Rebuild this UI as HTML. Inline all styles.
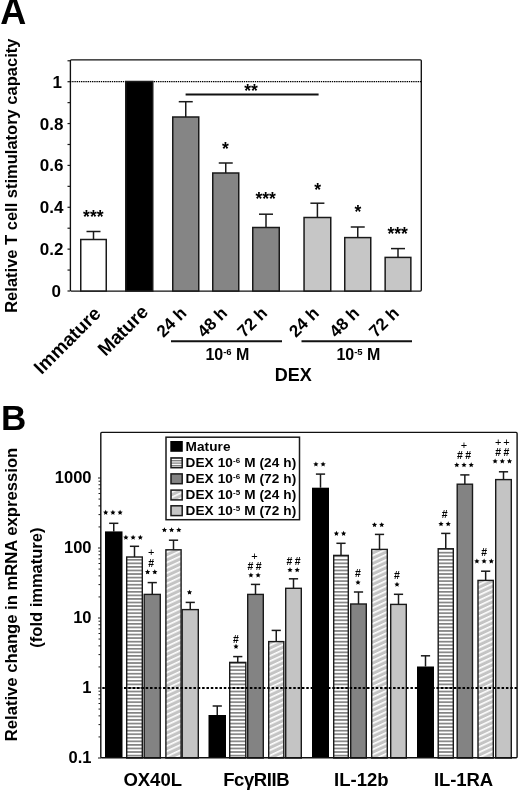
<!DOCTYPE html>
<html><head><meta charset="utf-8"><title>Figure</title>
<style>html,body{margin:0;padding:0;background:#fff;}svg{display:block;filter:blur(0.3px);}text{font-family:"Liberation Sans",sans-serif;}</style>
</head><body>
<svg width="520" height="791" viewBox="0 0 520 791">
<rect width="520" height="791" fill="#fff"/>
<rect x="70.4" y="59.8" width="350.9" height="231.3" rx="1" fill="none" stroke="#111" stroke-width="1.35"/>
<line x1="67.5" y1="291.00" x2="70" y2="291.00" stroke="#1a1a1a" stroke-width="1.2"/>
<line x1="67.5" y1="270.07" x2="70" y2="270.07" stroke="#1a1a1a" stroke-width="1.2"/>
<line x1="67.5" y1="249.14" x2="70" y2="249.14" stroke="#1a1a1a" stroke-width="1.2"/>
<line x1="67.5" y1="228.21" x2="70" y2="228.21" stroke="#1a1a1a" stroke-width="1.2"/>
<line x1="67.5" y1="207.28" x2="70" y2="207.28" stroke="#1a1a1a" stroke-width="1.2"/>
<line x1="67.5" y1="186.35" x2="70" y2="186.35" stroke="#1a1a1a" stroke-width="1.2"/>
<line x1="67.5" y1="165.42" x2="70" y2="165.42" stroke="#1a1a1a" stroke-width="1.2"/>
<line x1="67.5" y1="144.49" x2="70" y2="144.49" stroke="#1a1a1a" stroke-width="1.2"/>
<line x1="67.5" y1="123.56" x2="70" y2="123.56" stroke="#1a1a1a" stroke-width="1.2"/>
<line x1="67.5" y1="102.63" x2="70" y2="102.63" stroke="#1a1a1a" stroke-width="1.2"/>
<line x1="67.5" y1="81.70" x2="70" y2="81.70" stroke="#1a1a1a" stroke-width="1.2"/>
<line x1="67.5" y1="60.77" x2="70" y2="60.77" stroke="#1a1a1a" stroke-width="1.2"/>
<text x="61" y="297.00" text-anchor="end" font-size="17" font-weight="bold" font-family="Liberation Sans, sans-serif">0</text>
<text x="63.5" y="255.14" text-anchor="end" font-size="17" font-weight="bold" font-family="Liberation Sans, sans-serif">0.2</text>
<text x="63.5" y="213.28" text-anchor="end" font-size="17" font-weight="bold" font-family="Liberation Sans, sans-serif">0.4</text>
<text x="63.5" y="171.42" text-anchor="end" font-size="17" font-weight="bold" font-family="Liberation Sans, sans-serif">0.6</text>
<text x="63.5" y="129.56" text-anchor="end" font-size="17" font-weight="bold" font-family="Liberation Sans, sans-serif">0.8</text>
<text x="62" y="87.70" text-anchor="end" font-size="17" font-weight="bold" font-family="Liberation Sans, sans-serif">1</text>
<line x1="70" y1="81.6" x2="421" y2="81.6" stroke="#000" stroke-width="1.2" stroke-dasharray="1.4 0.8"/>
<line x1="93.50" y1="231.50" x2="93.50" y2="239.50" stroke="#1a1a1a" stroke-width="1.5"/>
<line x1="86.50" y1="231.50" x2="100.50" y2="231.50" stroke="#1a1a1a" stroke-width="1.5"/>
<rect x="80.75" y="239.50" width="25.50" height="51.50" fill="#fff" stroke="#1a1a1a" stroke-width="1.5"/>
<rect x="125.75" y="81.50" width="27.00" height="209.50" fill="#000" stroke="#1a1a1a" stroke-width="1.5"/>
<line x1="185.75" y1="101.70" x2="185.75" y2="117.00" stroke="#1a1a1a" stroke-width="1.5"/>
<line x1="178.75" y1="101.70" x2="192.75" y2="101.70" stroke="#1a1a1a" stroke-width="1.5"/>
<rect x="172.75" y="117.00" width="26.00" height="174.00" fill="#858585" stroke="#1a1a1a" stroke-width="1.5"/>
<line x1="225.75" y1="163.00" x2="225.75" y2="173.00" stroke="#1a1a1a" stroke-width="1.5"/>
<line x1="218.75" y1="163.00" x2="232.75" y2="163.00" stroke="#1a1a1a" stroke-width="1.5"/>
<rect x="212.75" y="173.00" width="26.00" height="118.00" fill="#858585" stroke="#1a1a1a" stroke-width="1.5"/>
<line x1="266.00" y1="214.20" x2="266.00" y2="227.50" stroke="#1a1a1a" stroke-width="1.5"/>
<line x1="259.00" y1="214.20" x2="273.00" y2="214.20" stroke="#1a1a1a" stroke-width="1.5"/>
<rect x="252.75" y="227.50" width="26.50" height="63.50" fill="#858585" stroke="#1a1a1a" stroke-width="1.5"/>
<line x1="317.40" y1="203.20" x2="317.40" y2="217.50" stroke="#1a1a1a" stroke-width="1.5"/>
<line x1="310.40" y1="203.20" x2="324.40" y2="203.20" stroke="#1a1a1a" stroke-width="1.5"/>
<rect x="304.05" y="217.50" width="26.70" height="73.50" fill="#c6c6c6" stroke="#1a1a1a" stroke-width="1.5"/>
<line x1="357.75" y1="227.00" x2="357.75" y2="237.60" stroke="#1a1a1a" stroke-width="1.5"/>
<line x1="350.75" y1="227.00" x2="364.75" y2="227.00" stroke="#1a1a1a" stroke-width="1.5"/>
<rect x="344.75" y="237.60" width="26.00" height="53.40" fill="#c6c6c6" stroke="#1a1a1a" stroke-width="1.5"/>
<line x1="398.00" y1="248.60" x2="398.00" y2="257.40" stroke="#1a1a1a" stroke-width="1.5"/>
<line x1="391.00" y1="248.60" x2="405.00" y2="248.60" stroke="#1a1a1a" stroke-width="1.5"/>
<rect x="385.15" y="257.40" width="25.70" height="33.60" fill="#c6c6c6" stroke="#1a1a1a" stroke-width="1.5"/>
<text x="93.30" y="222.54" text-anchor="middle" font-size="17.5" font-weight="bold" font-family="Liberation Sans, sans-serif">***</text>
<text x="225.50" y="154.54" text-anchor="middle" font-size="17.5" font-weight="bold" font-family="Liberation Sans, sans-serif">*</text>
<text x="265.70" y="205.04" text-anchor="middle" font-size="17.5" font-weight="bold" font-family="Liberation Sans, sans-serif">***</text>
<text x="317.70" y="195.54" text-anchor="middle" font-size="17.5" font-weight="bold" font-family="Liberation Sans, sans-serif">*</text>
<text x="358.00" y="218.34" text-anchor="middle" font-size="17.5" font-weight="bold" font-family="Liberation Sans, sans-serif">*</text>
<text x="397.60" y="239.54" text-anchor="middle" font-size="17.5" font-weight="bold" font-family="Liberation Sans, sans-serif">***</text>
<text x="251.00" y="96.54" text-anchor="middle" font-size="17.5" font-weight="bold" font-family="Liberation Sans, sans-serif">**</text>
<line x1="185.6" y1="94.6" x2="318.6" y2="94.6" stroke="#111" stroke-width="2"/>
<text x="102.00" y="314.80" text-anchor="end" transform="rotate(-45 102.00 314.80)" font-size="19" font-weight="bold" font-family="Liberation Sans, sans-serif">Immature</text>
<text x="149.50" y="313.00" text-anchor="end" transform="rotate(-45 149.50 313.00)" font-size="19" font-weight="bold" font-family="Liberation Sans, sans-serif">Mature</text>
<text x="187.50" y="314.20" text-anchor="end" transform="rotate(-45 187.50 314.20)" font-size="17" font-weight="bold" font-family="Liberation Sans, sans-serif">24 h</text>
<text x="228.30" y="314.20" text-anchor="end" transform="rotate(-45 228.30 314.20)" font-size="17" font-weight="bold" font-family="Liberation Sans, sans-serif">48 h</text>
<text x="268.30" y="314.20" text-anchor="end" transform="rotate(-45 268.30 314.20)" font-size="17" font-weight="bold" font-family="Liberation Sans, sans-serif">72 h</text>
<text x="320.00" y="314.20" text-anchor="end" transform="rotate(-45 320.00 314.20)" font-size="17" font-weight="bold" font-family="Liberation Sans, sans-serif">24 h</text>
<text x="360.40" y="314.20" text-anchor="end" transform="rotate(-45 360.40 314.20)" font-size="17" font-weight="bold" font-family="Liberation Sans, sans-serif">48 h</text>
<text x="400.00" y="314.20" text-anchor="end" transform="rotate(-45 400.00 314.20)" font-size="17" font-weight="bold" font-family="Liberation Sans, sans-serif">72 h</text>
<line x1="171" y1="341.2" x2="282" y2="341.2" stroke="#111" stroke-width="2"/>
<line x1="301.5" y1="341.2" x2="412" y2="341.2" stroke="#111" stroke-width="2"/>
<text x="227.4" y="359.5" text-anchor="middle" font-size="16" font-weight="bold" font-family="Liberation Sans, sans-serif">10<tspan font-size="9.5" dy="-4.7">-6</tspan><tspan dy="4.7"> M</tspan></text>
<text x="358.4" y="360" text-anchor="middle" font-size="16" font-weight="bold" font-family="Liberation Sans, sans-serif">10<tspan font-size="9.5" dy="-4.7">-5</tspan><tspan dy="4.7"> M</tspan></text>
<text x="293.3" y="380.6" text-anchor="middle" font-size="18" font-weight="bold" font-family="Liberation Sans, sans-serif">DEX</text>
<text x="0.3" y="24.3" font-size="36" font-weight="bold" font-family="Liberation Sans, sans-serif">A</text>
<text x="17.3" y="175.7" text-anchor="middle" transform="rotate(-90 17.3 175.7)" font-size="16.5" font-weight="bold" font-family="Liberation Sans, sans-serif" dx="0">Relative T cell stimulatory capacity</text>
<defs><pattern id="hs" patternUnits="userSpaceOnUse" width="10" height="3.56"><rect width="10" height="3.56" fill="#fff"/><rect y="0" width="10" height="1.7" fill="#838383"/></pattern><pattern id="dd" patternUnits="userSpaceOnUse" width="20" height="4.75" patternTransform="rotate(-25)"><rect width="20" height="4.75" fill="#c4c4c4"/><rect y="0" width="20" height="1.6" fill="#fff"/></pattern><pattern id="hs2" patternUnits="userSpaceOnUse" width="10" height="2.5"><rect width="10" height="2.5" fill="#fff"/><rect y="0" width="10" height="1.3" fill="#7c7c7c"/></pattern></defs>
<line x1="113.75" y1="523.30" x2="113.75" y2="531.40" stroke="#1a1a1a" stroke-width="1.5"/>
<line x1="109.15" y1="523.30" x2="118.35" y2="523.30" stroke="#1a1a1a" stroke-width="1.5"/>
<rect x="105.00" y="531.40" width="17.50" height="226.60" fill="#000"/>
<line x1="134.50" y1="546.30" x2="134.50" y2="557.00" stroke="#1a1a1a" stroke-width="1.5"/>
<line x1="129.90" y1="546.30" x2="139.10" y2="546.30" stroke="#1a1a1a" stroke-width="1.5"/>
<rect x="126.70" y="557.00" width="15.60" height="201.00" fill="url(#hs)" stroke="#1a1a1a" stroke-width="1.4"/>
<line x1="152.25" y1="582.60" x2="152.25" y2="594.40" stroke="#1a1a1a" stroke-width="1.5"/>
<line x1="147.65" y1="582.60" x2="156.85" y2="582.60" stroke="#1a1a1a" stroke-width="1.5"/>
<rect x="144.20" y="594.40" width="16.10" height="163.60" fill="#838383" stroke="#1a1a1a" stroke-width="1.4"/>
<line x1="173.50" y1="540.20" x2="173.50" y2="549.80" stroke="#1a1a1a" stroke-width="1.5"/>
<line x1="168.90" y1="540.20" x2="178.10" y2="540.20" stroke="#1a1a1a" stroke-width="1.5"/>
<rect x="165.90" y="549.80" width="15.20" height="208.20" fill="url(#dd)" stroke="#1a1a1a" stroke-width="1.4"/>
<line x1="190.25" y1="602.40" x2="190.25" y2="609.60" stroke="#1a1a1a" stroke-width="1.5"/>
<line x1="185.65" y1="602.40" x2="194.85" y2="602.40" stroke="#1a1a1a" stroke-width="1.5"/>
<rect x="182.20" y="609.60" width="16.10" height="148.40" fill="#c4c4c4" stroke="#1a1a1a" stroke-width="1.4"/>
<line x1="217.25" y1="706.00" x2="217.25" y2="715.00" stroke="#1a1a1a" stroke-width="1.5"/>
<line x1="212.65" y1="706.00" x2="221.85" y2="706.00" stroke="#1a1a1a" stroke-width="1.5"/>
<rect x="208.50" y="715.00" width="17.50" height="43.00" fill="#000"/>
<line x1="237.75" y1="656.60" x2="237.75" y2="662.40" stroke="#1a1a1a" stroke-width="1.5"/>
<line x1="233.15" y1="656.60" x2="242.35" y2="656.60" stroke="#1a1a1a" stroke-width="1.5"/>
<rect x="229.70" y="662.40" width="16.10" height="95.60" fill="url(#hs)" stroke="#1a1a1a" stroke-width="1.4"/>
<line x1="255.50" y1="584.40" x2="255.50" y2="594.40" stroke="#1a1a1a" stroke-width="1.5"/>
<line x1="250.90" y1="584.40" x2="260.10" y2="584.40" stroke="#1a1a1a" stroke-width="1.5"/>
<rect x="247.70" y="594.40" width="15.60" height="163.60" fill="#838383" stroke="#1a1a1a" stroke-width="1.4"/>
<line x1="276.25" y1="630.40" x2="276.25" y2="641.60" stroke="#1a1a1a" stroke-width="1.5"/>
<line x1="271.65" y1="630.40" x2="280.85" y2="630.40" stroke="#1a1a1a" stroke-width="1.5"/>
<rect x="268.70" y="641.60" width="15.10" height="116.40" fill="url(#dd)" stroke="#1a1a1a" stroke-width="1.4"/>
<line x1="293.50" y1="578.80" x2="293.50" y2="588.30" stroke="#1a1a1a" stroke-width="1.5"/>
<line x1="288.90" y1="578.80" x2="298.10" y2="578.80" stroke="#1a1a1a" stroke-width="1.5"/>
<rect x="285.70" y="588.30" width="15.60" height="169.70" fill="#c4c4c4" stroke="#1a1a1a" stroke-width="1.4"/>
<line x1="320.50" y1="474.10" x2="320.50" y2="487.70" stroke="#1a1a1a" stroke-width="1.5"/>
<line x1="315.90" y1="474.10" x2="325.10" y2="474.10" stroke="#1a1a1a" stroke-width="1.5"/>
<rect x="312.00" y="487.70" width="17.00" height="270.30" fill="#000"/>
<line x1="341.00" y1="543.30" x2="341.00" y2="555.40" stroke="#1a1a1a" stroke-width="1.5"/>
<line x1="336.40" y1="543.30" x2="345.60" y2="543.30" stroke="#1a1a1a" stroke-width="1.5"/>
<rect x="333.70" y="555.40" width="14.60" height="202.60" fill="url(#hs)" stroke="#1a1a1a" stroke-width="1.4"/>
<line x1="358.50" y1="592.00" x2="358.50" y2="604.00" stroke="#1a1a1a" stroke-width="1.5"/>
<line x1="353.90" y1="592.00" x2="363.10" y2="592.00" stroke="#1a1a1a" stroke-width="1.5"/>
<rect x="350.70" y="604.00" width="15.60" height="154.00" fill="#838383" stroke="#1a1a1a" stroke-width="1.4"/>
<line x1="379.50" y1="534.40" x2="379.50" y2="549.40" stroke="#1a1a1a" stroke-width="1.5"/>
<line x1="374.90" y1="534.40" x2="384.10" y2="534.40" stroke="#1a1a1a" stroke-width="1.5"/>
<rect x="371.70" y="549.40" width="15.60" height="208.60" fill="url(#dd)" stroke="#1a1a1a" stroke-width="1.4"/>
<line x1="398.50" y1="594.30" x2="398.50" y2="604.40" stroke="#1a1a1a" stroke-width="1.5"/>
<line x1="393.90" y1="594.30" x2="403.10" y2="594.30" stroke="#1a1a1a" stroke-width="1.5"/>
<rect x="390.70" y="604.40" width="15.60" height="153.60" fill="#c4c4c4" stroke="#1a1a1a" stroke-width="1.4"/>
<line x1="425.50" y1="655.80" x2="425.50" y2="666.50" stroke="#1a1a1a" stroke-width="1.5"/>
<line x1="420.90" y1="655.80" x2="430.10" y2="655.80" stroke="#1a1a1a" stroke-width="1.5"/>
<rect x="417.00" y="666.50" width="17.00" height="91.50" fill="#000"/>
<line x1="445.75" y1="533.40" x2="445.75" y2="548.75" stroke="#1a1a1a" stroke-width="1.5"/>
<line x1="441.15" y1="533.40" x2="450.35" y2="533.40" stroke="#1a1a1a" stroke-width="1.5"/>
<rect x="438.20" y="548.75" width="15.10" height="209.25" fill="url(#hs)" stroke="#1a1a1a" stroke-width="1.4"/>
<line x1="464.85" y1="474.90" x2="464.85" y2="484.20" stroke="#1a1a1a" stroke-width="1.5"/>
<line x1="460.25" y1="474.90" x2="469.45" y2="474.90" stroke="#1a1a1a" stroke-width="1.5"/>
<rect x="457.20" y="484.20" width="15.30" height="273.80" fill="#838383" stroke="#1a1a1a" stroke-width="1.4"/>
<line x1="485.65" y1="571.20" x2="485.65" y2="580.40" stroke="#1a1a1a" stroke-width="1.5"/>
<line x1="481.05" y1="571.20" x2="490.25" y2="571.20" stroke="#1a1a1a" stroke-width="1.5"/>
<rect x="478.00" y="580.40" width="15.30" height="177.60" fill="url(#dd)" stroke="#1a1a1a" stroke-width="1.4"/>
<line x1="503.50" y1="471.80" x2="503.50" y2="479.60" stroke="#1a1a1a" stroke-width="1.5"/>
<line x1="498.90" y1="471.80" x2="508.10" y2="471.80" stroke="#1a1a1a" stroke-width="1.5"/>
<rect x="495.70" y="479.60" width="15.60" height="278.40" fill="#c4c4c4" stroke="#1a1a1a" stroke-width="1.4"/>
<line x1="101" y1="688" x2="517" y2="688" stroke="#000" stroke-width="2.2" stroke-dasharray="2.5 1.84" stroke-dashoffset="3.04"/>
<rect x="100.8" y="432.4" width="416.3" height="325.4" rx="1" fill="none" stroke="#111" stroke-width="1.4"/>
<line x1="98" y1="758.00" x2="101" y2="758.00" stroke="#1a1a1a" stroke-width="1"/>
<line x1="98.5" y1="736.93" x2="101" y2="736.93" stroke="#1a1a1a" stroke-width="1"/>
<line x1="98.5" y1="724.60" x2="101" y2="724.60" stroke="#1a1a1a" stroke-width="1"/>
<line x1="98.5" y1="715.86" x2="101" y2="715.86" stroke="#1a1a1a" stroke-width="1"/>
<line x1="98.5" y1="709.07" x2="101" y2="709.07" stroke="#1a1a1a" stroke-width="1"/>
<line x1="98.5" y1="703.53" x2="101" y2="703.53" stroke="#1a1a1a" stroke-width="1"/>
<line x1="98.5" y1="698.84" x2="101" y2="698.84" stroke="#1a1a1a" stroke-width="1"/>
<line x1="98.5" y1="694.78" x2="101" y2="694.78" stroke="#1a1a1a" stroke-width="1"/>
<line x1="98.5" y1="691.20" x2="101" y2="691.20" stroke="#1a1a1a" stroke-width="1"/>
<line x1="98" y1="688.00" x2="101" y2="688.00" stroke="#1a1a1a" stroke-width="1"/>
<line x1="98.5" y1="666.93" x2="101" y2="666.93" stroke="#1a1a1a" stroke-width="1"/>
<line x1="98.5" y1="654.60" x2="101" y2="654.60" stroke="#1a1a1a" stroke-width="1"/>
<line x1="98.5" y1="645.86" x2="101" y2="645.86" stroke="#1a1a1a" stroke-width="1"/>
<line x1="98.5" y1="639.07" x2="101" y2="639.07" stroke="#1a1a1a" stroke-width="1"/>
<line x1="98.5" y1="633.53" x2="101" y2="633.53" stroke="#1a1a1a" stroke-width="1"/>
<line x1="98.5" y1="628.84" x2="101" y2="628.84" stroke="#1a1a1a" stroke-width="1"/>
<line x1="98.5" y1="624.78" x2="101" y2="624.78" stroke="#1a1a1a" stroke-width="1"/>
<line x1="98.5" y1="621.20" x2="101" y2="621.20" stroke="#1a1a1a" stroke-width="1"/>
<line x1="98" y1="618.00" x2="101" y2="618.00" stroke="#1a1a1a" stroke-width="1"/>
<line x1="98.5" y1="596.93" x2="101" y2="596.93" stroke="#1a1a1a" stroke-width="1"/>
<line x1="98.5" y1="584.60" x2="101" y2="584.60" stroke="#1a1a1a" stroke-width="1"/>
<line x1="98.5" y1="575.86" x2="101" y2="575.86" stroke="#1a1a1a" stroke-width="1"/>
<line x1="98.5" y1="569.07" x2="101" y2="569.07" stroke="#1a1a1a" stroke-width="1"/>
<line x1="98.5" y1="563.53" x2="101" y2="563.53" stroke="#1a1a1a" stroke-width="1"/>
<line x1="98.5" y1="558.84" x2="101" y2="558.84" stroke="#1a1a1a" stroke-width="1"/>
<line x1="98.5" y1="554.78" x2="101" y2="554.78" stroke="#1a1a1a" stroke-width="1"/>
<line x1="98.5" y1="551.20" x2="101" y2="551.20" stroke="#1a1a1a" stroke-width="1"/>
<line x1="98" y1="548.00" x2="101" y2="548.00" stroke="#1a1a1a" stroke-width="1"/>
<line x1="98.5" y1="526.93" x2="101" y2="526.93" stroke="#1a1a1a" stroke-width="1"/>
<line x1="98.5" y1="514.60" x2="101" y2="514.60" stroke="#1a1a1a" stroke-width="1"/>
<line x1="98.5" y1="505.86" x2="101" y2="505.86" stroke="#1a1a1a" stroke-width="1"/>
<line x1="98.5" y1="499.07" x2="101" y2="499.07" stroke="#1a1a1a" stroke-width="1"/>
<line x1="98.5" y1="493.53" x2="101" y2="493.53" stroke="#1a1a1a" stroke-width="1"/>
<line x1="98.5" y1="488.84" x2="101" y2="488.84" stroke="#1a1a1a" stroke-width="1"/>
<line x1="98.5" y1="484.78" x2="101" y2="484.78" stroke="#1a1a1a" stroke-width="1"/>
<line x1="98.5" y1="481.20" x2="101" y2="481.20" stroke="#1a1a1a" stroke-width="1"/>
<line x1="98" y1="478.00" x2="101" y2="478.00" stroke="#1a1a1a" stroke-width="1"/>
<text x="91.5" y="762.50" text-anchor="end" font-size="16.5" font-weight="bold" font-family="Liberation Sans, sans-serif">0.1</text>
<text x="91.5" y="692.50" text-anchor="end" font-size="16.5" font-weight="bold" font-family="Liberation Sans, sans-serif">1</text>
<text x="91.5" y="622.50" text-anchor="end" font-size="16.5" font-weight="bold" font-family="Liberation Sans, sans-serif">10</text>
<text x="91.5" y="552.50" text-anchor="end" font-size="16.5" font-weight="bold" font-family="Liberation Sans, sans-serif">100</text>
<text x="91.5" y="482.50" text-anchor="end" font-size="16.5" font-weight="bold" font-family="Liberation Sans, sans-serif">1000</text>
<polygon points="105.70,509.85 106.46,511.55 108.32,511.75 106.93,513.00 107.32,514.82 105.70,513.89 104.08,514.82 104.47,513.00 103.08,511.75 104.94,511.55" fill="#000"/>
<polygon points="112.90,509.85 113.66,511.55 115.52,511.75 114.13,513.00 114.52,514.82 112.90,513.89 111.28,514.82 111.67,513.00 110.28,511.75 112.14,511.55" fill="#000"/>
<polygon points="120.10,509.85 120.86,511.55 122.72,511.75 121.33,513.00 121.72,514.82 120.10,513.89 118.48,514.82 118.87,513.00 117.48,511.75 119.34,511.55" fill="#000"/>
<polygon points="125.90,534.75 126.66,536.45 128.52,536.65 127.13,537.90 127.52,539.72 125.90,538.79 124.28,539.72 124.67,537.90 123.28,536.65 125.14,536.45" fill="#000"/>
<polygon points="133.10,534.75 133.86,536.45 135.72,536.65 134.33,537.90 134.72,539.72 133.10,538.79 131.48,539.72 131.87,537.90 130.48,536.65 132.34,536.45" fill="#000"/>
<polygon points="140.30,534.75 141.06,536.45 142.92,536.65 141.53,537.90 141.92,539.72 140.30,538.79 138.68,539.72 139.07,537.90 137.68,536.65 139.54,536.45" fill="#000"/>
<text x="151.20" y="555.80" text-anchor="middle" font-size="11" font-family="Liberation Sans, sans-serif">+</text>
<text x="151.20" y="567.15" text-anchor="middle" font-size="10.5" font-weight="bold" font-family="Liberation Sans, sans-serif">#</text>
<polygon points="147.60,569.35 148.36,571.05 150.22,571.25 148.83,572.50 149.22,574.32 147.60,573.39 145.98,574.32 146.37,572.50 144.98,571.25 146.84,571.05" fill="#000"/>
<polygon points="154.80,569.35 155.56,571.05 157.42,571.25 156.03,572.50 156.42,574.32 154.80,573.39 153.18,574.32 153.57,572.50 152.18,571.25 154.04,571.05" fill="#000"/>
<polygon points="164.40,527.25 165.16,528.95 167.02,529.15 165.63,530.40 166.02,532.22 164.40,531.29 162.78,532.22 163.17,530.40 161.78,529.15 163.64,528.95" fill="#000"/>
<polygon points="171.60,527.25 172.36,528.95 174.22,529.15 172.83,530.40 173.22,532.22 171.60,531.29 169.98,532.22 170.37,530.40 168.98,529.15 170.84,528.95" fill="#000"/>
<polygon points="178.80,527.25 179.56,528.95 181.42,529.15 180.03,530.40 180.42,532.22 178.80,531.29 177.18,532.22 177.57,530.40 176.18,529.15 178.04,528.95" fill="#000"/>
<polygon points="189.50,589.65 190.26,591.35 192.12,591.55 190.73,592.80 191.12,594.62 189.50,593.69 187.88,594.62 188.27,592.80 186.88,591.55 188.74,591.35" fill="#000"/>
<text x="236.00" y="642.60" text-anchor="middle" font-size="10.5" font-weight="bold" font-family="Liberation Sans, sans-serif">#</text>
<polygon points="236.00,643.85 236.76,645.55 238.62,645.75 237.23,647.00 237.62,648.82 236.00,647.89 234.38,648.82 234.77,647.00 233.38,645.75 235.24,645.55" fill="#000"/>
<text x="254.50" y="559.60" text-anchor="middle" font-size="11" font-family="Liberation Sans, sans-serif">+</text>
<text x="250.40" y="569.70" text-anchor="middle" font-size="10.5" font-weight="bold" font-family="Liberation Sans, sans-serif">#</text>
<text x="258.60" y="569.70" text-anchor="middle" font-size="10.5" font-weight="bold" font-family="Liberation Sans, sans-serif">#</text>
<polygon points="250.90,572.55 251.66,574.25 253.52,574.45 252.13,575.70 252.52,577.52 250.90,576.59 249.28,577.52 249.67,575.70 248.28,574.45 250.14,574.25" fill="#000"/>
<polygon points="258.10,572.55 258.86,574.25 260.72,574.45 259.33,575.70 259.72,577.52 258.10,576.59 256.48,577.52 256.87,575.70 255.48,574.45 257.34,574.25" fill="#000"/>
<text x="289.50" y="564.70" text-anchor="middle" font-size="10.5" font-weight="bold" font-family="Liberation Sans, sans-serif">#</text>
<text x="297.70" y="564.70" text-anchor="middle" font-size="10.5" font-weight="bold" font-family="Liberation Sans, sans-serif">#</text>
<polygon points="290.00,567.25 290.76,568.95 292.62,569.15 291.23,570.40 291.62,572.22 290.00,571.29 288.38,572.22 288.77,570.40 287.38,569.15 289.24,568.95" fill="#000"/>
<polygon points="297.20,567.25 297.96,568.95 299.82,569.15 298.43,570.40 298.82,572.22 297.20,571.29 295.58,572.22 295.97,570.40 294.58,569.15 296.44,568.95" fill="#000"/>
<polygon points="315.90,461.55 316.66,463.25 318.52,463.45 317.13,464.70 317.52,466.52 315.90,465.59 314.28,466.52 314.67,464.70 313.28,463.45 315.14,463.25" fill="#000"/>
<polygon points="323.10,461.55 323.86,463.25 325.72,463.45 324.33,464.70 324.72,466.52 323.10,465.59 321.48,466.52 321.87,464.70 320.48,463.45 322.34,463.25" fill="#000"/>
<polygon points="336.40,530.85 337.16,532.55 339.02,532.75 337.63,534.00 338.02,535.82 336.40,534.89 334.78,535.82 335.17,534.00 333.78,532.75 335.64,532.55" fill="#000"/>
<polygon points="343.60,530.85 344.36,532.55 346.22,532.75 344.83,534.00 345.22,535.82 343.60,534.89 341.98,535.82 342.37,534.00 340.98,532.75 342.84,532.55" fill="#000"/>
<text x="358.00" y="577.00" text-anchor="middle" font-size="10.5" font-weight="bold" font-family="Liberation Sans, sans-serif">#</text>
<polygon points="358.00,579.75 358.76,581.45 360.62,581.65 359.23,582.90 359.62,584.72 358.00,583.79 356.38,584.72 356.77,582.90 355.38,581.65 357.24,581.45" fill="#000"/>
<polygon points="374.50,522.15 375.26,523.85 377.12,524.05 375.73,525.30 376.12,527.12 374.50,526.19 372.88,527.12 373.27,525.30 371.88,524.05 373.74,523.85" fill="#000"/>
<polygon points="381.70,522.15 382.46,523.85 384.32,524.05 382.93,525.30 383.32,527.12 381.70,526.19 380.08,527.12 380.47,525.30 379.08,524.05 380.94,523.85" fill="#000"/>
<text x="397.00" y="579.00" text-anchor="middle" font-size="10.5" font-weight="bold" font-family="Liberation Sans, sans-serif">#</text>
<polygon points="397.00,581.75 397.76,583.45 399.62,583.65 398.23,584.90 398.62,586.72 397.00,585.79 395.38,586.72 395.77,584.90 394.38,583.65 396.24,583.45" fill="#000"/>
<text x="444.60" y="517.90" text-anchor="middle" font-size="10.5" font-weight="bold" font-family="Liberation Sans, sans-serif">#</text>
<polygon points="441.00,521.25 441.76,522.95 443.62,523.15 442.23,524.40 442.62,526.22 441.00,525.29 439.38,526.22 439.77,524.40 438.38,523.15 440.24,522.95" fill="#000"/>
<polygon points="448.20,521.25 448.96,522.95 450.82,523.15 449.43,524.40 449.82,526.22 448.20,525.29 446.58,526.22 446.97,524.40 445.58,523.15 447.44,522.95" fill="#000"/>
<text x="464.00" y="448.70" text-anchor="middle" font-size="11" font-family="Liberation Sans, sans-serif">+</text>
<text x="459.90" y="458.90" text-anchor="middle" font-size="10.5" font-weight="bold" font-family="Liberation Sans, sans-serif">#</text>
<text x="468.10" y="458.90" text-anchor="middle" font-size="10.5" font-weight="bold" font-family="Liberation Sans, sans-serif">#</text>
<polygon points="456.80,462.25 457.56,463.95 459.42,464.15 458.03,465.40 458.42,467.22 456.80,466.29 455.18,467.22 455.57,465.40 454.18,464.15 456.04,463.95" fill="#000"/>
<polygon points="464.00,462.25 464.76,463.95 466.62,464.15 465.23,465.40 465.62,467.22 464.00,466.29 462.38,467.22 462.77,465.40 461.38,464.15 463.24,463.95" fill="#000"/>
<polygon points="471.20,462.25 471.96,463.95 473.82,464.15 472.43,465.40 472.82,467.22 471.20,466.29 469.58,467.22 469.97,465.40 468.58,464.15 470.44,463.95" fill="#000"/>
<text x="484.10" y="556.20" text-anchor="middle" font-size="10.5" font-weight="bold" font-family="Liberation Sans, sans-serif">#</text>
<polygon points="476.90,558.55 477.66,560.25 479.52,560.45 478.13,561.70 478.52,563.52 476.90,562.59 475.28,563.52 475.67,561.70 474.28,560.45 476.14,560.25" fill="#000"/>
<polygon points="484.10,558.55 484.86,560.25 486.72,560.45 485.33,561.70 485.72,563.52 484.10,562.59 482.48,563.52 482.87,561.70 481.48,560.45 483.34,560.25" fill="#000"/>
<polygon points="491.30,558.55 492.06,560.25 493.92,560.45 492.53,561.70 492.92,563.52 491.30,562.59 489.68,563.52 490.07,561.70 488.68,560.45 490.54,560.25" fill="#000"/>
<text x="498.20" y="446.00" text-anchor="middle" font-size="11" font-family="Liberation Sans, sans-serif">+</text>
<text x="506.40" y="446.00" text-anchor="middle" font-size="11" font-family="Liberation Sans, sans-serif">+</text>
<text x="498.20" y="455.90" text-anchor="middle" font-size="10.5" font-weight="bold" font-family="Liberation Sans, sans-serif">#</text>
<text x="506.40" y="455.90" text-anchor="middle" font-size="10.5" font-weight="bold" font-family="Liberation Sans, sans-serif">#</text>
<polygon points="495.10,458.55 495.86,460.25 497.72,460.45 496.33,461.70 496.72,463.52 495.10,462.59 493.48,463.52 493.87,461.70 492.48,460.45 494.34,460.25" fill="#000"/>
<polygon points="502.30,458.55 503.06,460.25 504.92,460.45 503.53,461.70 503.92,463.52 502.30,462.59 500.68,463.52 501.07,461.70 499.68,460.45 501.54,460.25" fill="#000"/>
<polygon points="509.50,458.55 510.26,460.25 512.12,460.45 510.73,461.70 511.12,463.52 509.50,462.59 507.88,463.52 508.27,461.70 506.88,460.45 508.74,460.25" fill="#000"/>
<rect x="166" y="437.2" width="133.5" height="82.5" fill="#fff" stroke="#1a1a1a" stroke-width="1.5"/>
<rect x="170.3" y="441" width="12.5" height="10.8" fill="#000"/>
<text x="185.5" y="450.5" font-size="13.6" font-weight="bold" letter-spacing="0.1" font-family="Liberation Sans, sans-serif">Mature</text>
<rect x="171" y="457.9" width="11.2" height="9.8" fill="url(#hs2)" stroke="#1a1a1a" stroke-width="1.5"/>
<text x="185.5" y="467.0" font-size="13.6" font-weight="bold" letter-spacing="0.1" font-family="Liberation Sans, sans-serif">DEX 10<tspan font-size="8" dy="-4.3">-6</tspan><tspan dy="4.3"> M (24 h)</tspan></text>
<rect x="171" y="473.9" width="11.2" height="9.8" fill="#838383" stroke="#1a1a1a" stroke-width="1.5"/>
<text x="185.5" y="483.0" font-size="13.6" font-weight="bold" letter-spacing="0.1" font-family="Liberation Sans, sans-serif">DEX 10<tspan font-size="8" dy="-4.3">-6</tspan><tspan dy="4.3"> M (72 h)</tspan></text>
<rect x="171" y="490.09999999999997" width="11.2" height="9.8" fill="url(#dd)" stroke="#1a1a1a" stroke-width="1.5"/>
<text x="185.5" y="499.2" font-size="13.6" font-weight="bold" letter-spacing="0.1" font-family="Liberation Sans, sans-serif">DEX 10<tspan font-size="8" dy="-4.3">-5</tspan><tspan dy="4.3"> M (24 h)</tspan></text>
<rect x="171" y="505.79999999999995" width="11.2" height="9.8" fill="#c4c4c4" stroke="#1a1a1a" stroke-width="1.5"/>
<text x="185.5" y="514.9" font-size="13.6" font-weight="bold" letter-spacing="0.1" font-family="Liberation Sans, sans-serif">DEX 10<tspan font-size="8" dy="-4.3">-5</tspan><tspan dy="4.3"> M (72 h)</tspan></text>
<text x="152.7" y="785.8" text-anchor="middle" font-size="18.5" font-weight="bold" letter-spacing="0" font-family="Liberation Sans, sans-serif">OX40L</text>
<text x="256.2" y="785.8" text-anchor="middle" font-size="18.5" font-weight="bold" letter-spacing="-0.4" font-family="Liberation Sans, sans-serif">Fc&#947;RIIB</text>
<text x="361.3" y="785.8" text-anchor="middle" font-size="18.5" font-weight="bold" letter-spacing="0" font-family="Liberation Sans, sans-serif">IL-12b</text>
<text x="463.5" y="785.8" text-anchor="middle" font-size="18.5" font-weight="bold" letter-spacing="-0.1" font-family="Liberation Sans, sans-serif">IL-1RA</text>
<text x="1" y="429.6" font-size="35" font-weight="bold" font-family="Liberation Sans, sans-serif">B</text>
<text x="17.2" y="594.5" text-anchor="middle" transform="rotate(-90 17.2 594.5)" font-size="16.65" font-weight="bold" font-family="Liberation Sans, sans-serif">Relative change in mRNA expression</text>
<text x="42.2" y="587.6" text-anchor="middle" transform="rotate(-90 42.2 587.6)" font-size="16.5" font-weight="bold" font-family="Liberation Sans, sans-serif">(fold immature)</text>
</svg>
</body></html>
